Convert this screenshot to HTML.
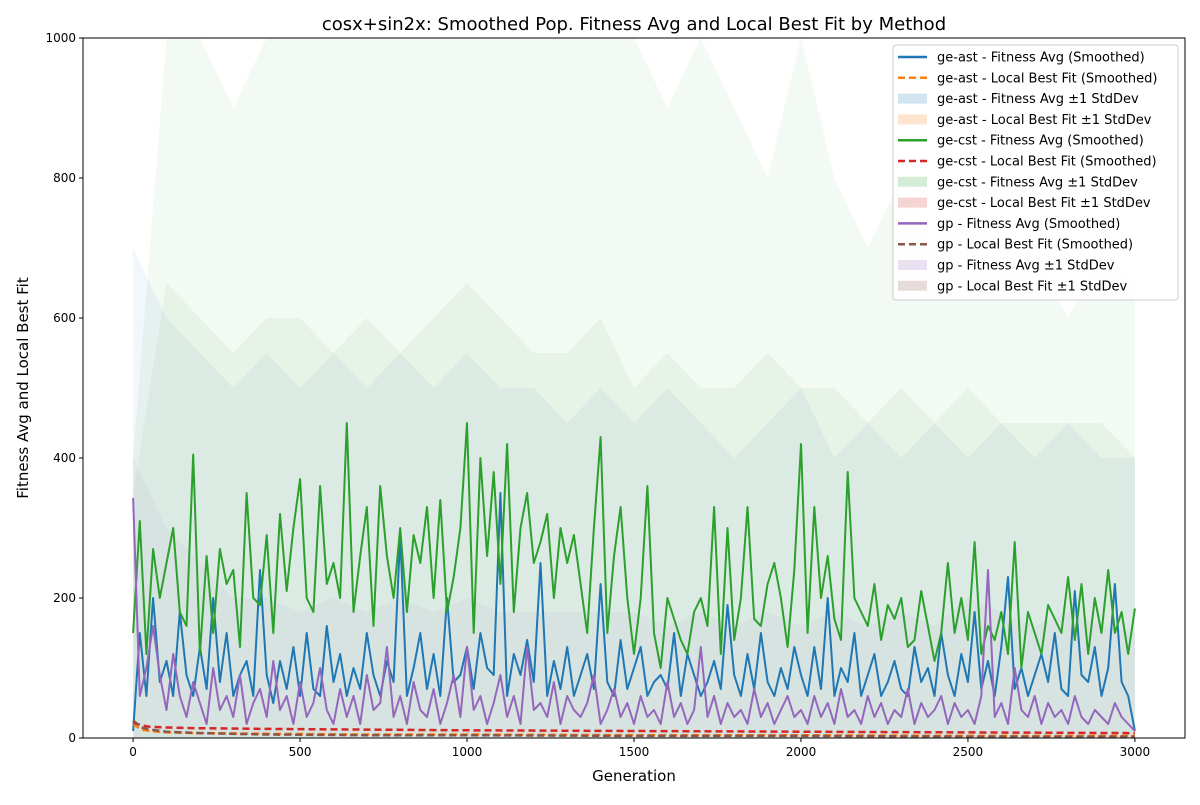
<!DOCTYPE html>
<html><head><meta charset="utf-8"><style>
body{margin:0;background:#fff;font-family:"Liberation Sans","DejaVu Sans",sans-serif}
svg text{font-family:"DejaVu Sans","Liberation Sans",sans-serif}
</style></head><body>
<svg id="chart" width="1200" height="800" xmlns="http://www.w3.org/2000/svg"></svg>
<script>
const gens20 = Array.from({length:151},(_, i)=>i*20);
const greenAvg = [150,310,120,270,200,250,300,180,160,405,120,260,150,270,220,240,130,350,200,190,290,150,320,210,300,370,200,180,360,220,250,200,450,180,260,330,160,360,260,200,300,180,290,250,330,200,340,180,230,300,
450,150,400,260,380,220,420,180,300,350,250,280,320,200,300,250,290,220,150,300,430,150,260,330,200,120,200,360,150,100,200,170,140,120,180,200,160,330,120,300,140,200,330,170,160,220,250,200,130,240,
420,150,330,200,260,170,140,380,200,180,160,220,140,190,170,200,130,140,210,160,110,150,250,150,200,140,280,120,160,140,180,120,280,100,180,150,120,190,170,150,230,140,220,120,200,150,240,150,180,120,185];
const blueAvg = [10,150,60,200,80,110,60,180,90,60,130,70,200,80,150,60,90,110,60,240,90,50,110,70,130,60,150,70,60,160,80,120,60,100,70,150,90,60,110,80,290,60,100,150,70,120,60,200,80,90,
130,70,150,100,90,350,60,120,90,140,80,250,60,110,70,130,60,90,120,70,220,80,60,140,70,100,130,60,80,90,70,150,60,120,90,60,80,110,70,190,90,60,120,70,150,80,60,100,70,130,
90,60,130,70,200,60,100,80,150,60,90,120,60,80,110,70,60,130,80,100,60,150,90,60,120,80,180,70,110,60,130,230,70,100,60,90,120,80,150,70,60,210,90,80,130,60,100,220,80,60,10];
const purpleAvg = [343,60,100,160,90,40,120,60,30,80,50,20,100,40,60,30,90,20,50,70,30,110,40,60,20,80,30,50,100,40,20,70,30,60,20,90,40,50,130,30,60,20,80,40,30,70,20,50,90,30,
130,40,60,20,50,90,30,60,20,130,40,50,30,80,20,60,40,30,50,90,20,40,70,30,50,20,60,30,40,20,80,30,50,20,40,130,30,60,20,50,30,40,20,70,30,50,20,40,60,30,
40,20,60,30,50,20,70,30,40,20,60,30,50,20,40,30,70,20,50,30,40,60,20,50,30,40,20,60,240,30,50,20,100,40,30,60,20,50,30,40,20,60,30,20,40,30,20,50,30,20,10];
const gens100 = Array.from({length:31},(_, i)=>i*100);
const greenBandUpper = [400,1000,1000,900,1000,1000,1000,1000,1000,1000,1000,1000,1000,1000,1000,1000,900,1000,900,800,1000,800,700,800,700,800,700,700,600,700,650];
const greenBandMid = [350,650,600,550,600,600,550,600,550,600,650,600,550,550,600,500,550,500,500,550,500,500,450,500,450,500,450,450,450,450,400];
const blueBandUpper = [700,600,550,500,550,500,550,500,550,500,550,500,500,450,500,450,500,450,400,450,500,400,450,400,450,400,450,400,450,400,400];
const purpleBandUpper = [400,300,250,200,200,180,200,180,200,180,200,180,180,180,180,180,160,180,160,180,160,180,160,180,160,200,180,160,180,160,150];
const lbGens = [0,25,50,100,200,400,700,1000,1500,2000,2500,3000];
const astLocal = [20,12,10,8,7,6,5,5,4,4,3,3];
const cstLocal = [22,18,16,15,14,13,12,11,10,9,8,7];
const gpLocal = [25,15,12,9,7,5,4,4,3,3,2,2];
const xTicks = [0,500,1000,1500,2000,2500,3000];
const yTicks = [0,200,400,600,800,1000];

const L=83,R=1185,T=38,B=738;
const X=v=>L+(v+150)/3300*(R-L);
const Y=v=>B-Math.min(Math.max(v,0),1000)/1000*(B-T);
const svg=document.getElementById('chart');
const NS='http://www.w3.org/2000/svg';
function mk(tag,attrs,parent){const e=document.createElementNS(NS,tag);for(const k in attrs)e.setAttribute(k,attrs[k]);(parent||svg).appendChild(e);return e;}

const clip=mk('clipPath',{id:'pc'});mk('rect',{x:L,y:T,width:R-L,height:B-T},clip);
const plot=mk('g',{'clip-path':'url(#pc)'});



function band(gs,up,color,name,op){
  let d='M'+X(gs[0])+','+Y(0);
  gs.forEach((g,i)=>{d+=' L'+X(g)+','+Y(up[i]);});
  d+=' L'+X(gs[gs.length-1])+','+Y(0)+' Z';
  const p=mk('path',{d:d,fill:color,'fill-opacity':op},plot);
  
  
}
function line(gs,vals,color,w,dash,name){
  const d=gs.map((g,i)=>(i?'L':'M')+X(g).toFixed(1)+','+Y(vals[i]).toFixed(1)).join(' ');
  const p=mk('path',{d:d,fill:'none',stroke:color,'stroke-width':w,'stroke-linejoin':'round'},plot);
  if(dash)p.setAttribute('stroke-dasharray',dash);
  
  
}
band(gens100,greenBandUpper,'#2ca02c','ge-cst-fitness-band',0.06);
band(gens100,greenBandMid,'#2ca02c','ge-cst-fitness-band-core',0.06);
band(gens100,blueBandUpper,'#1f77b4','ge-ast-fitness-band',0.06);
band(gens100,purpleBandUpper,'#9467bd','gp-fitness-band',0.06);
line(gens20,blueAvg,'#1f77b4',2,null,'ge-ast-fitness-line');
line(gens20,greenAvg,'#2ca02c',2,null,'ge-cst-fitness-line');
line(gens20,purpleAvg,'#9467bd',2,null,'gp-fitness-line');
line(lbGens,astLocal,'#ff7f0e',2.5,'7,4','ge-ast-local-best-line');
line(lbGens,cstLocal,'#d62728',2.5,'7,4','ge-cst-local-best-line');
line(lbGens,gpLocal,'#8c564b',2.5,'7,4','gp-local-best-line');

const frame=mk('rect',{x:L,y:T,width:R-L,height:B-T,fill:'none',stroke:'#000','stroke-width':1});



xTicks.forEach(v=>{
  mk('line',{x1:X(v),x2:X(v),y1:B,y2:B+4,stroke:'#000'});
  const t=mk('text',{x:X(v),y:B+18,'text-anchor':'middle','font-size':12});
  t.textContent=v;
  
  
});
yTicks.forEach(v=>{
  mk('line',{x1:L-4,x2:L,y1:Y(v),y2:Y(v),stroke:'#000'});
  const t=mk('text',{x:L-7,y:Y(v)+4,'text-anchor':'end','font-size':12});
  t.textContent=v;
  
  
});
let t=mk('text',{x:634,y:30,'text-anchor':'middle','font-size':18});
t.textContent='cosx+sin2x: Smoothed Pop. Fitness Avg and Local Best Fit by Method';


t=mk('text',{x:634,y:781,'text-anchor':'middle','font-size':15});
t.textContent='Generation';


t=mk('text',{x:28,y:388,'text-anchor':'middle','font-size':15,transform:'rotate(-90 28 388)'});
t.textContent='Fitness Avg and Local Best Fit';



const lg=mk('g',{});


mk('rect',{x:893,y:45,width:285,height:255,rx:3,fill:'#fff','fill-opacity':0.85,stroke:'#ccc'},lg);
const entries=[
['ge-ast - Fitness Avg (Smoothed)','#1f77b4','line'],
['ge-ast - Local Best Fit (Smoothed)','#ff7f0e','dash'],
['ge-ast - Fitness Avg ±1 StdDev','#1f77b4','patch'],
['ge-ast - Local Best Fit ±1 StdDev','#ff7f0e','patch'],
['ge-cst - Fitness Avg (Smoothed)','#2ca02c','line'],
['ge-cst - Local Best Fit (Smoothed)','#d62728','dash'],
['ge-cst - Fitness Avg ±1 StdDev','#2ca02c','patch'],
['ge-cst - Local Best Fit ±1 StdDev','#d62728','patch'],
['gp - Fitness Avg (Smoothed)','#9467bd','line'],
['gp - Local Best Fit (Smoothed)','#8c564b','dash'],
['gp - Fitness Avg ±1 StdDev','#9467bd','patch'],
['gp - Local Best Fit ±1 StdDev','#8c564b','patch']];
entries.forEach((e,i)=>{
  const y=57+i*20.8;
  const g=mk('g',{},lg);
  
  
  if(e[2]==='patch') mk('rect',{x:898,y:y-5,width:29,height:10,fill:e[1],'fill-opacity':0.2},g);
  else{const l=mk('line',{x1:898,x2:927,y1:y,y2:y,stroke:e[1],'stroke-width':2.5},g); if(e[2]==='dash')l.setAttribute('stroke-dasharray','7,4');}
  const tx=mk('text',{x:937,y:y+4.5,'font-size':13},g);tx.textContent=e[0];
});
</script>
</body></html>
